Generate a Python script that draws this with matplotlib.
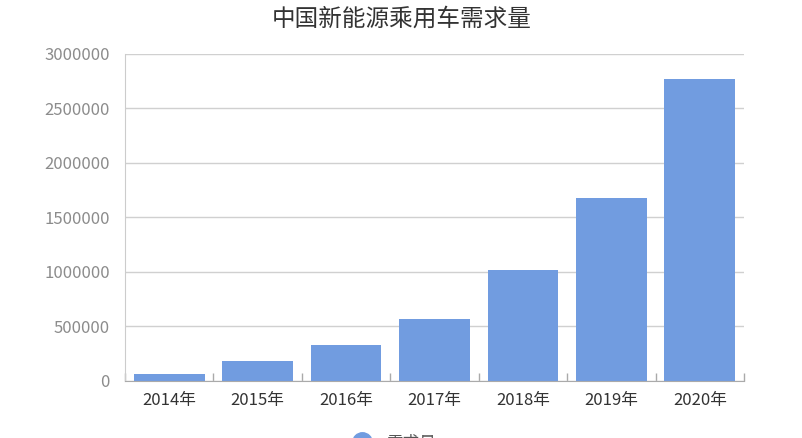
import matplotlib
matplotlib.use("Agg")
import matplotlib.pyplot as plt
from matplotlib.lines import Line2D

plt.rcParams['font.family'] = ['Noto Sans CJK SC', 'DejaVu Sans']

categories = ["2014年", "2015年", "2016年", "2017年", "2018年", "2019年", "2020年"]
demand = [62000, 181000, 331000, 562000, 1016000, 1674000, 2766000]
series_name = "需求量"
title = "中国新能源乘用车需求量"
yticks = [0, 500000, 1000000, 1500000, 2000000, 2500000, 3000000]

bar_color = "#719ce0"

fig = plt.figure(figsize=(8.03, 4.38), dpi=100)
ax = fig.add_axes([125/803, 1-380.7/438, (744-125)/803, (380.7-53.7)/438])

x = list(range(len(categories)))
ax.bar(x, demand, width=0.8, color=bar_color, zorder=3)

ax.set_xlim(-0.5, len(categories)-0.5)
ax.set_ylim(0, 3000000)
ax.set_yticks(yticks)
ax.set_yticklabels([str(v) for v in yticks])
ax.yaxis.grid(True, color="#d0d0d0", linewidth=1.0, zorder=0)
ax.tick_params(axis='y', length=0, labelsize=12, labelcolor="#8c8c8c", pad=11)

ax.set_xticks(x)
ax.set_xticklabels(categories)
ax.tick_params(axis='x', length=0, labelsize=12, labelcolor="#333333", pad=8)
ax.set_xticks([i - 0.5 for i in range(len(categories)+1)], minor=True)
ax.tick_params(axis='x', which='minor', direction='in', length=6, color="#aaaaaa", width=1)

for s in ['top', 'right']:
    ax.spines[s].set_visible(False)
ax.spines['left'].set_color("#cccccc")
ax.spines['bottom'].set_color("#aaaaaa")
ax.spines['bottom'].set_zorder(4)

fig.text(0.5, 1-19/438, title, ha='center', va='center', fontsize=17, color="#333333")

handle = Line2D([], [], marker='o', linestyle='none', markersize=14,
                markerfacecolor=bar_color, markeredgecolor=bar_color)
fig.legend([handle], [series_name], loc='upper center',
           bbox_to_anchor=(0.487, 1-420/438), frameon=False, fontsize=12,
           labelcolor="#555555", handletextpad=0.5)

fig.savefig("out.png", dpi=100, facecolor="white")
